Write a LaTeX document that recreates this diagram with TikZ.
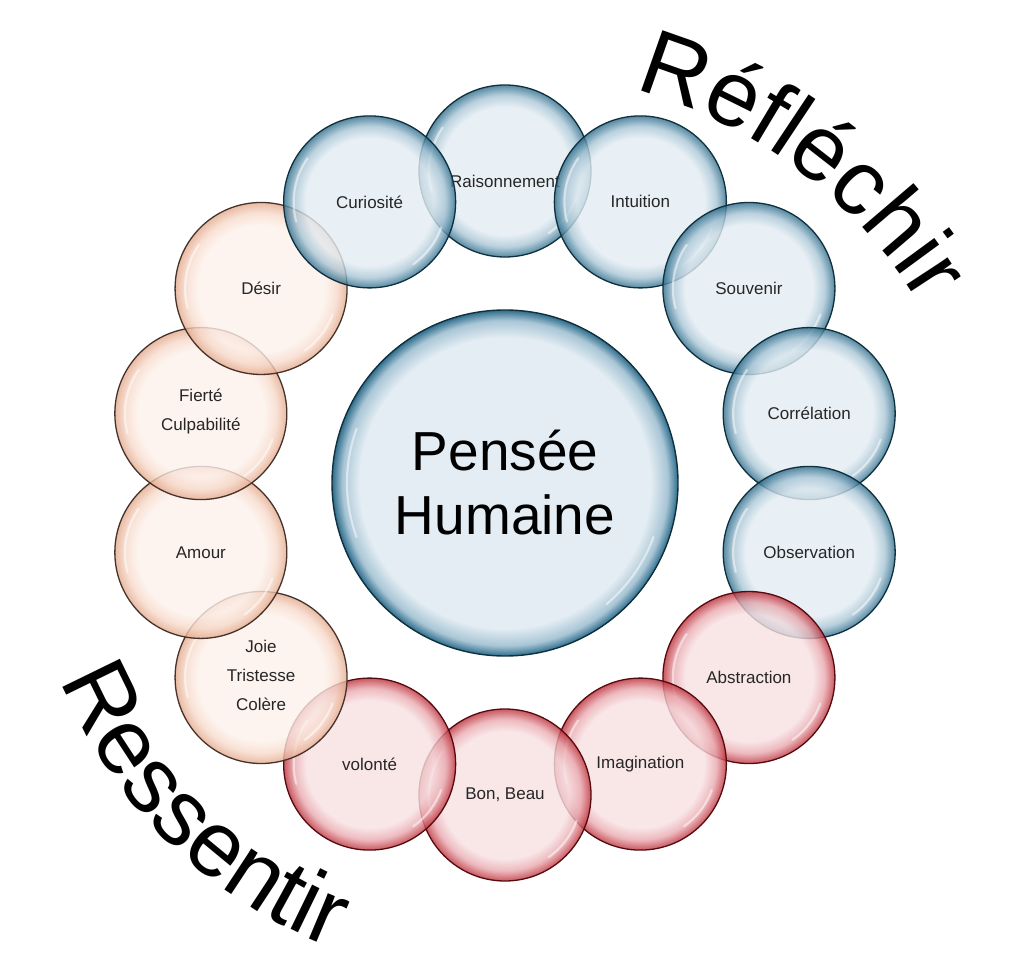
\documentclass[tikz,border=0pt]{standalone}
\usepackage{fontspec}
\setmainfont{Liberation Sans}
\usetikzlibrary{calc,decorations.text}

\definecolor{blueA}{HTML}{E4EDF3}
\definecolor{blueB}{HTML}{A9C6D6}
\definecolor{blueC}{HTML}{2E6D8C}
\definecolor{blueD}{HTML}{10303D}
\definecolor{redA}{HTML}{F8E1E3}
\definecolor{redB}{HTML}{E9A9AF}
\definecolor{redC}{HTML}{BC2F39}
\definecolor{redD}{HTML}{560A10}
\definecolor{peachA}{HTML}{FDF1EB}
\definecolor{peachB}{HTML}{F7DACB}
\definecolor{peachC}{HTML}{E4AA8C}
\definecolor{peachD}{HTML}{45322C}

\pgfdeclareradialshading{bubblue}{\pgfpoint{0bp}{0bp}}{color(0bp)=(blueA); color(18.5bp)=(blueA); color(22bp)=(blueB); color(25bp)=(blueC); color(50bp)=(blueC)}
\pgfdeclareradialshading{bubred}{\pgfpoint{0bp}{0bp}}{color(0bp)=(redA); color(18.5bp)=(redA); color(22bp)=(redB); color(25bp)=(redC); color(50bp)=(redC)}
\pgfdeclareradialshading{bubpeach}{\pgfpoint{0bp}{0bp}}{color(0bp)=(peachA); color(18.5bp)=(peachA); color(22bp)=(peachB); color(25bp)=(peachC); color(50bp)=(peachC)}
\pgfdeclareradialshading{bubbig}{\pgfpoint{0bp}{0bp}}{color(0bp)=(blueA); color(21bp)=(blueA); color(23.5bp)=(blueB); color(25bp)=(blueC); color(50bp)=(blueC)}

\newcommand\bigtitle{\fontsize{93}{93}\selectfont}

\tikzset{
  bub/.style={circle, minimum size=172pt, inner sep=0pt, line width=1.3pt,
    draw=#1D, shade, shading=bub#1, fill opacity=0.8, draw opacity=1},
  bigbub/.style={circle, minimum size=346pt, inner sep=0pt, line width=1.4pt,
    draw=blueD, shade, shading=bubbig},
  hl/.style={white, line width=2.2pt, line cap=round, opacity=0.5},
  lab/.style={font=\fontsize{17}{29}\selectfont, text=black!85, align=center, inner sep=0pt},
  biglab/.style={font=\fontsize{55}{64}\selectfont, text=black, align=center, inner sep=0pt}
}

\begin{document}
\begin{tikzpicture}[x=1pt,y=1pt]
\useasboundingbox (0,0) rectangle (1024,970);
\fill[white] (0,0) rectangle (1024,970);
\coordinate (C) at (505,487);

\foreach \k/\c/\t/\dy in {0/blue/Raisonnement/-10, 1/blue/Intuition/0, 2/blue/Souvenir/0,
  3/blue/Corrélation/0, 4/blue/Observation/0, 5/red/Abstraction/0, 6/red/Imagination/0,
  7/red/{Bon, Beau}/0, 8/red/volonté/0, 9/peach/{Joie\\Tristesse\\Colère}/2,
  10/peach/Amour/0, 11/peach/{Fierté\\Culpabilité}/2, 12/peach/Désir/0, 13/blue/Curiosité/0}
{
  \pgfmathsetmacro\a{90-\k*360/14}
  \node[bub=\c] (n\k) at ($(C)+(\a:312)$) {};
  \draw[hl] ($(n\k)+(145:76)$) arc[start angle=145, end angle=195, radius=76];
  \draw[hl] ($(n\k)+(-20:76)$) arc[start angle=-20, end angle=-55, radius=76];
  \node[lab] (l\k) at ($(n\k)+(0,\dy)$) {\t};
}

\node[bigbub] (c) at (C) {};
\draw[hl] ($(c)+(160:158)$) arc[start angle=160, end angle=200, radius=158];
\draw[hl] ($(c)+(-20:158)$) arc[start angle=-20, end angle=-50, radius=158];
\node[biglab] (cl) at (C) {Pensée\\Humaine};

% titles along arcs
\path[decorate, decoration={text along path, text align=center,
  text={|\bigtitle|Réfléchir}}]
  (505,411) ++(83:487) arc[start angle=83, end angle=23, radius=487];

\path[decorate, decoration={text along path, text align=center,
  text={|\bigtitle|Ressentir}}]
  (505,470) ++(194.5:480) arc[start angle=194.5, end angle=256.5, radius=480];
\end{tikzpicture}
\end{document}
